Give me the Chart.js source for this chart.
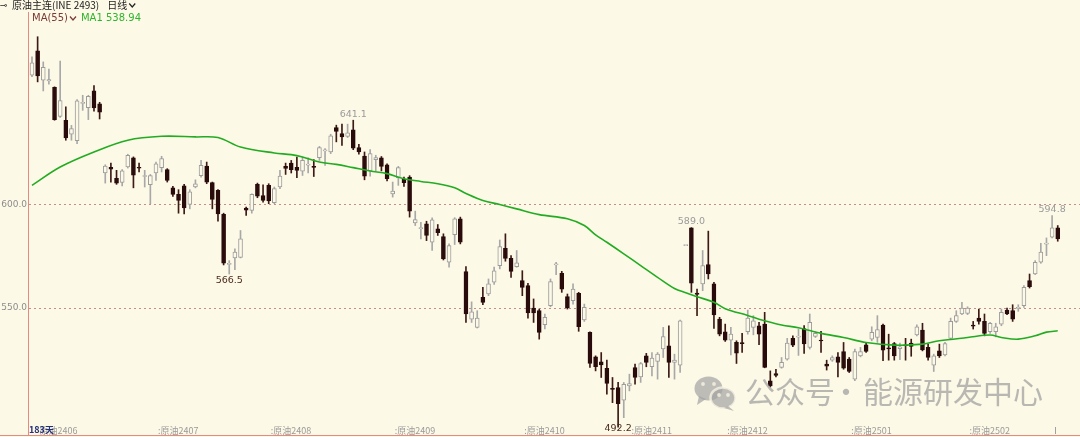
<!DOCTYPE html>
<html>
<head>
<meta charset="utf-8">
<script src="https://cdn.jsdelivr.net/npm/chart.js@4.4.0/dist/chart.umd.min.js"></script>
<style>
  html, body { margin: 0; padding: 0; background: #fdf9e7; }
  #wrap { width: 1080px; height: 437px; position: relative; }
</style>
</head>
<body>
<div id="wrap"><canvas id="kline"></canvas></div>
<script>
// 原油主连 daily candles, 183 sessions
const opens = [
  663.0, 674.8, 660.5, 660.2, 657.0, 643.0, 641.1, 634.3, 631.2, 649.3,
  647.2, 655.3, 649.0, 615.5, 618.2, 612.9, 610.9, 618.4, 622.9, 618.3,
  613.8, 609.8, 615.5, 618.1, 617.1, 608.3, 605.1, 609.3, 600.2, 608.7,
  614.2, 618.9, 610.8, 607.1, 595.4, 571.2, 574.3, 574.6, 598.5, 597.3,
  610.0, 604.6, 609.5, 601.1, 608.7, 618.7, 620.3, 618.3, 616.4, 619.3,
  618.6, 622.9, 626.2, 625.7, 637.5, 634.6, 633.3, 636.5, 627.8, 623.7,
  616.5, 622.0, 622.9, 619.5, 605.4, 613.2, 612.4, 613.5, 591.3, 588.5,
  590.8, 581.9, 588.4, 584.7, 572.2, 585.6, 593.3, 567.7, 544.6, 540.6,
  555.2, 556.8, 562.5, 570.6, 579.0, 574.1, 570.1, 563.3, 560.9, 550.0,
  548.7, 541.9, 551.1, 570.9, 566.8, 555.5, 553.6, 557.1, 544.2, 538.2,
  526.3, 523.9, 520.7, 510.7, 511.4, 505.3, 512.2, 521.1, 516.6, 526.8,
  521.5, 524.1, 530.1, 531.7, 523.6, 522.3, 580.3, 588.9, 557.2, 561.7,
  571.1, 561.7, 544.6, 538.5, 534.4, 533.3, 532.9, 538.5, 540.6, 541.4,
  542.2, 514.7, 518.2, 521.2, 525.2, 535.3, 535.9, 540.0, 530.9, 536.2,
  534.2, 522.8, 524.7, 526.3, 528.9, 525.2, 515.5, 526.8, 532.2, 534.9,
  535.7, 541.7, 530.4, 532.8, 530.3, 531.9, 533.0, 537.0, 539.3, 530.9,
  522.3, 529.2, 527.3, 535.3, 543.5, 547.1, 547.4, 541.6, 545.1, 543.5,
  538.5, 538.5, 542.2, 549.0, 548.7, 549.8, 551.1, 563.3, 566.5, 572.2,
  581.0, 584.4, 588.9
];
const highs = [
  671.9, 681.6, 669.4, 665.9, 657.3, 669.8, 647.6, 638.6, 651.1, 653.2,
  653.2, 657.9, 649.8, 619.5, 620.3, 616.8, 617.1, 624.6, 623.3, 620.3,
  616.8, 614.8, 620.8, 623.6, 617.6, 609.0, 607.4, 610.0, 607.4, 612.2,
  621.6, 620.8, 611.1, 607.4, 596.0, 573.0, 578.7, 587.6, 599.0, 605.4,
  610.6, 609.8, 610.3, 608.7, 616.8, 620.3, 621.6, 623.2, 623.2, 622.9,
  622.0, 628.4, 627.3, 634.3, 638.7, 639.2, 639.2, 641.1, 629.4, 625.7,
  626.8, 624.1, 623.5, 620.0, 611.1, 618.7, 613.5, 614.2, 597.0, 591.6,
  592.1, 593.7, 590.5, 586.0, 581.1, 593.8, 594.1, 570.1, 553.0, 548.7,
  560.0, 564.1, 569.8, 583.0, 586.0, 575.4, 577.9, 568.1, 562.0, 554.4,
  549.5, 547.1, 564.1, 572.2, 567.8, 556.8, 561.7, 557.6, 551.9, 538.5,
  526.8, 528.4, 524.8, 516.3, 513.9, 513.9, 517.9, 522.8, 523.6, 528.0,
  528.4, 528.4, 540.6, 541.4, 527.6, 544.2, 580.3, 589.0, 559.2, 577.9,
  587.3, 562.5, 545.5, 542.2, 540.6, 534.1, 537.7, 549.0, 546.3, 543.0,
  547.9, 519.5, 520.3, 526.0, 535.3, 536.5, 539.8, 541.5, 547.1, 538.5,
  538.7, 524.7, 526.8, 528.4, 533.3, 526.0, 530.1, 530.9, 533.3, 540.9,
  546.3, 542.2, 537.3, 533.3, 533.0, 535.3, 534.9, 541.9, 542.6, 532.5,
  527.6, 532.5, 533.3, 545.1, 548.7, 552.8, 550.6, 543.5, 549.5, 547.1,
  543.0, 542.6, 549.5, 550.0, 551.6, 551.6, 560.9, 566.5, 573.0, 581.4,
  584.0, 594.8, 590.0
];
const lows = [
  662.2, 659.7, 655.3, 658.6, 641.1, 642.4, 631.4, 631.4, 629.7, 645.9,
  641.4, 645.5, 641.7, 610.6, 611.1, 610.0, 609.2, 617.9, 608.3, 616.0,
  608.7, 600.6, 611.9, 616.0, 611.1, 604.1, 596.0, 595.7, 598.1, 608.3,
  613.5, 610.3, 598.1, 592.1, 570.9, 566.5, 568.6, 574.3, 594.9, 596.0,
  603.5, 601.4, 600.6, 600.6, 607.9, 614.8, 615.5, 613.2, 614.3, 615.5,
  613.8, 621.6, 619.2, 624.9, 630.6, 628.9, 632.7, 626.8, 624.6, 612.2,
  613.9, 616.5, 616.5, 611.6, 603.8, 609.5, 609.0, 594.1, 590.0, 583.5,
  582.7, 577.9, 585.2, 573.3, 569.8, 580.8, 581.1, 543.0, 543.0, 540.3,
  551.6, 556.0, 561.4, 569.0, 572.7, 564.9, 569.8, 556.0, 545.1, 543.0,
  534.9, 539.8, 550.6, 566.2, 557.6, 549.5, 551.9, 538.7, 543.5, 521.2,
  519.5, 516.3, 508.2, 504.1, 492.2, 496.8, 509.8, 513.0, 513.9, 521.5,
  517.1, 515.5, 526.0, 516.3, 515.5, 518.7, 580.3, 557.6, 546.3, 558.4,
  564.1, 540.1, 536.5, 533.8, 527.3, 523.1, 528.4, 537.3, 537.0, 532.2,
  521.0, 511.7, 516.6, 520.8, 524.7, 531.2, 527.0, 528.0, 530.1, 535.7,
  528.4, 519.9, 524.1, 516.6, 520.3, 518.7, 514.7, 526.3, 528.4, 534.1,
  533.3, 524.4, 524.7, 524.7, 525.0, 524.7, 526.6, 536.5, 529.2, 524.7,
  519.2, 526.0, 526.8, 534.9, 543.0, 546.8, 546.8, 539.8, 542.2, 536.5,
  537.7, 536.0, 541.4, 546.8, 543.5, 548.4, 550.3, 559.7, 566.2, 571.7,
  575.4, 584.0, 582.4
];
const closes = [
  669.0, 662.6, 666.7, 660.8, 641.4, 650.6, 632.5, 637.0, 650.5, 649.8,
  652.7, 647.1, 645.0, 618.9, 617.3, 610.6, 616.6, 624.1, 614.5, 617.8,
  614.2, 614.3, 620.0, 622.5, 611.9, 605.1, 602.2, 598.6, 606.4, 610.3,
  619.2, 611.1, 602.7, 595.7, 571.7, 571.5, 577.1, 583.6, 597.5, 605.1,
  604.3, 602.2, 601.9, 607.9, 614.0, 617.7, 617.1, 616.7, 621.6, 619.6,
  618.2, 627.8, 626.6, 633.5, 635.7, 633.0, 635.0, 627.6, 625.7, 613.9,
  624.9, 623.0, 618.7, 612.7, 606.7, 618.1, 610.8, 597.0, 592.9, 588.8,
  585.2, 592.8, 586.5, 573.8, 580.3, 593.3, 581.9, 547.1, 548.2, 545.1,
  552.7, 561.7, 568.1, 579.8, 574.1, 567.8, 571.9, 560.0, 547.6, 547.6,
  538.2, 545.5, 562.8, 571.3, 559.2, 550.0, 559.2, 540.9, 550.3, 523.1,
  521.5, 522.4, 513.4, 510.5, 503.6, 513.0, 513.3, 516.3, 523.1, 523.6,
  525.7, 527.6, 536.1, 523.6, 524.7, 543.8, 580.4, 562.0, 556.6, 570.6,
  566.5, 546.6, 537.3, 534.4, 537.3, 528.1, 532.7, 545.1, 543.8, 537.3,
  521.2, 512.2, 517.3, 523.6, 533.0, 532.0, 536.1, 532.6, 543.0, 537.7,
  534.0, 521.8, 526.0, 523.6, 520.8, 519.2, 528.9, 528.9, 528.9, 538.2,
  539.5, 529.6, 530.2, 526.8, 531.2, 531.7, 531.4, 540.9, 529.7, 526.0,
  526.8, 526.8, 532.8, 543.5, 546.3, 550.0, 550.0, 541.2, 543.5, 537.7,
  542.6, 540.9, 547.9, 547.1, 544.6, 550.2, 560.0, 560.4, 572.2, 577.1,
  581.2, 588.9, 583.5
];

// MA55 line, sampled along the curve (candle index -> value)
const maIdx = [0, 5, 11, 17, 23, 29, 33, 37, 43, 46, 48, 51, 54, 57, 60, 63, 66, 69, 72, 75,
  77, 80, 83, 86, 90, 95, 98, 100, 102, 105, 108, 111, 114, 116, 118, 121, 123, 127, 129, 133,
  136, 140, 144, 148, 153, 158, 161, 166, 170, 172, 175, 178, 180, 182];
const maVal = [609.5, 618.4, 625.7, 631.4, 633.3, 633.0, 632.7, 628.1, 625.2, 624.4, 623.3, 620.8, 619.7, 618.1, 616.5, 615.2, 612.7, 611.4, 610.3, 608.3,
  605.6, 602.2, 600.2, 598.1, 595.3, 593.3, 590.0, 585.5, 581.9, 576.3, 570.6, 564.9, 559.5, 557.4, 555.5, 552.8, 549.7, 546.4, 544.6, 541.8,
  540.4, 537.7, 535.7, 533.3, 532.0, 532.5, 534.1, 535.7, 536.9, 535.7, 534.9, 536.5, 538.3, 538.94];

// contract roll markers on the time axis
const rollIdx = [1, 22, 42, 64, 87, 106, 123, 145, 166];
const rollLabels = ['原油2406', ':原油2407', ':原油2408', ':原油2409', ':原油2410', ':原油2411', ':原油2412', ':原油2501', ':原油2502'];
const yTicks = [550, 600];
const highMarks = [57, 117, 181];
const lowMarks = [35, 104];

(function () {
    'use strict';

    const BG = '#fdf9e7';
    const UP_LINE = '#9c9c9c';
    const DOWN = '#2a0b0b';
    const CJK = '"Noto Sans CJK SC", "Noto Sans", sans-serif';

    const isUp = closes.map((c, i) => c >= opens[i]);
    const bodies = opens.map((o, i) => ({ x: i, y: [o, closes[i]] }));
    const wicks = lows.map((l, i) => ({ x: i, y: [l, highs[i]] }));
    const maLine = maIdx.map((x, k) => ({ x, y: maVal[k] }));

    function chevron(c, x, y, color) {
        c.save();
        c.strokeStyle = color;
        c.lineWidth = 1.2;
        c.beginPath();
        c.moveTo(x, y - 2);
        c.lineTo(x + 3, y + 1.5);
        c.lineTo(x + 6, y - 2);
        c.stroke();
        c.restore();
    }

    const frame = {
        id: 'frame',
        beforeDraw(chart) {
            const c = chart.ctx;
            c.save();
            c.fillStyle = BG;
            c.fillRect(0, 0, chart.width, chart.height);
            c.restore();
        },
        afterDraw(chart) {
            const c = chart.ctx;
            const a = chart.chartArea;
            const xs = chart.scales.x;
            const ys = chart.scales.y;
            c.save();

            // axis frame
            c.strokeStyle = '#e48a84';
            c.lineWidth = 1;
            c.beginPath();
            c.moveTo(a.left - 0.5, a.top);
            c.lineTo(a.left - 0.5, a.bottom + 0.5);
            c.stroke();
            c.beginPath();
            c.moveTo(0, a.bottom + 0.5);
            c.lineTo(chart.width, a.bottom + 0.5);
            c.stroke();

            // header
            c.textBaseline = 'middle';
            c.fillStyle = '#222';
            c.font = '9px "DejaVu Sans", sans-serif';
            c.fillText('⊸', 0, 5.5);
            c.font = '10px ' + CJK;
            const title = '原油主连(INE 2493)';
            c.fillText(title, 12, 5.5);
            const tx = 12 + c.measureText(title).width + 8;
            c.fillText('日线', tx, 5.5);
            chevron(c, tx + c.measureText('日线').width + 2, 5.5, '#222');

            // MA legend
            c.font = '10px "DejaVu Sans", sans-serif';
            c.fillStyle = '#7b3a34';
            c.fillText('MA(55)', 32, 18.5);
            const mw = c.measureText('MA(55)').width;
            chevron(c, 32 + mw + 2, 18.5, '#7b3a34');
            c.fillStyle = '#2eb52e';
            c.fillText('MA1 ' + maVal[maVal.length - 1].toFixed(2), 32 + mw + 13, 18.5);

            // time axis labels
            c.font = '9px ' + CJK;
            c.fillStyle = '#9a9a9a';
            c.textAlign = 'left';
            rollIdx.forEach((idx, k) => {
                c.fillText(rollLabels[k], xs.getPixelForValue(idx) + 2, a.bottom - 4);
            });
            const lastX = xs.getPixelForValue(opens.length - 1) - 3;
            c.strokeStyle = '#a0a0a0';
            c.beginPath();
            c.moveTo(Math.round(lastX) + 0.5, a.bottom - 8);
            c.lineTo(Math.round(lastX) + 0.5, a.bottom - 1);
            c.stroke();
            c.font = 'bold 9px ' + CJK;
            c.fillStyle = '#25307a';
            c.fillText(opens.length + '天', a.left, a.bottom - 5);

            // extreme marks
            c.font = '9.5px "DejaVu Sans", sans-serif';
            c.textAlign = 'center';
            c.textBaseline = 'bottom';
            c.fillStyle = '#9a9a9a';
            highMarks.forEach((i) => {
                c.fillText(highs[i].toFixed(1), xs.getPixelForValue(i), ys.getPixelForValue(highs[i]) - 1);
            });
            c.textBaseline = 'top';
            c.fillStyle = '#4a2a1c';
            lowMarks.forEach((i) => {
                const ty = Math.min(ys.getPixelForValue(lows[i]) + 2, a.bottom - 11);
                c.fillText(lows[i].toFixed(1), xs.getPixelForValue(i), ty);
            });

            // watermark
            c.globalAlpha = 0.72;
            c.fillStyle = '#a3a3a3';
            c.beginPath();
            c.ellipse(708.5, 388.5, 14, 12, 0, 0, Math.PI * 2);
            c.fill();
            c.beginPath();
            c.moveTo(699, 396); c.lineTo(697, 405); c.lineTo(706, 399);
            c.fill();
            c.strokeStyle = BG;
            c.lineWidth = 2.5;
            c.beginPath();
            c.ellipse(723, 398, 12.5, 10.5, 0, 0, Math.PI * 2);
            c.fill();
            c.stroke();
            c.beginPath();
            c.moveTo(728, 406); c.lineTo(734, 411); c.lineTo(724, 408);
            c.fill();
            c.fillStyle = BG;
            [[703, 384], [714, 384], [719, 395], [728, 395]].forEach(([ex, ey]) => {
                c.beginPath();
                c.arc(ex, ey, 1.9, 0, Math.PI * 2);
                c.fill();
            });
            c.fillStyle = '#9c9c9c';
            c.font = '30px ' + CJK;
            c.textAlign = 'left';
            c.textBaseline = 'middle';
            c.fillText('公众号', 745, 392);
            c.textAlign = 'center';
            c.fillText('·', 846, 392);
            c.textAlign = 'left';
            c.fillText('能源研发中心', 863, 392);
            c.restore();
        },
    };

    new Chart(document.getElementById('kline'), {
        type: 'bar',
        data: {
            datasets: [
                {
                    type: 'line',
                    label: 'MA1',
                    data: maLine,
                    borderColor: '#22ac22',
                    borderWidth: 1.6,
                    pointRadius: 0,
                    tension: 0.35,
                    order: 1,
                },
                {
                    label: 'body',
                    data: bodies,
                    backgroundColor: isUp.map((u) => (u ? BG : DOWN)),
                    borderColor: isUp.map((u) => (u ? UP_LINE : DOWN)),
                    borderWidth: 1,
                    borderSkipped: false,
                    barThickness: 4,
                    minBarLength: 1,
                    grouped: false,
                    order: 2,
                },
                {
                    label: 'wick',
                    data: wicks,
                    backgroundColor: isUp.map((u) => (u ? '#a8a8a8' : '#3d1a16')),
                    borderWidth: 0,
                    barThickness: 1,
                    grouped: false,
                    order: 3,
                },
            ],
        },
        options: {
            responsive: true,
            maintainAspectRatio: false,
            animation: false,
            layout: { padding: { top: 12, bottom: 2, left: 0, right: 0 } },
            plugins: {
                legend: { display: false },
                tooltip: { enabled: false },
            },
            scales: {
                x: {
                    type: 'linear',
                    display: false,
                    offset: false,
                    min: -0.53,
                    max: 185.95,
                },
                y: {
                    position: 'left',
                    min: 488.4,
                    max: 693.6,
                    afterFit: (s) => {
                        s.width = 29;
                        s.paddingTop = 0;
                        s.paddingBottom = 0;
                    },
                    afterBuildTicks: (s) => { s.ticks = yTicks.map((v) => ({ value: v })); },
                    ticks: {
                        padding: 2,
                        color: '#8c8c8c',
                        font: { size: 9, family: '"DejaVu Sans", sans-serif' },
                        callback: (v) => Number(v).toFixed(1),
                    },
                    grid: { color: '#c48e8a', lineWidth: 1, drawTicks: false },
                    border: { display: false, dash: [2, 3] },
                },
            },
        },
        plugins: [frame],
    });
})();
</script>
</body>
</html>
